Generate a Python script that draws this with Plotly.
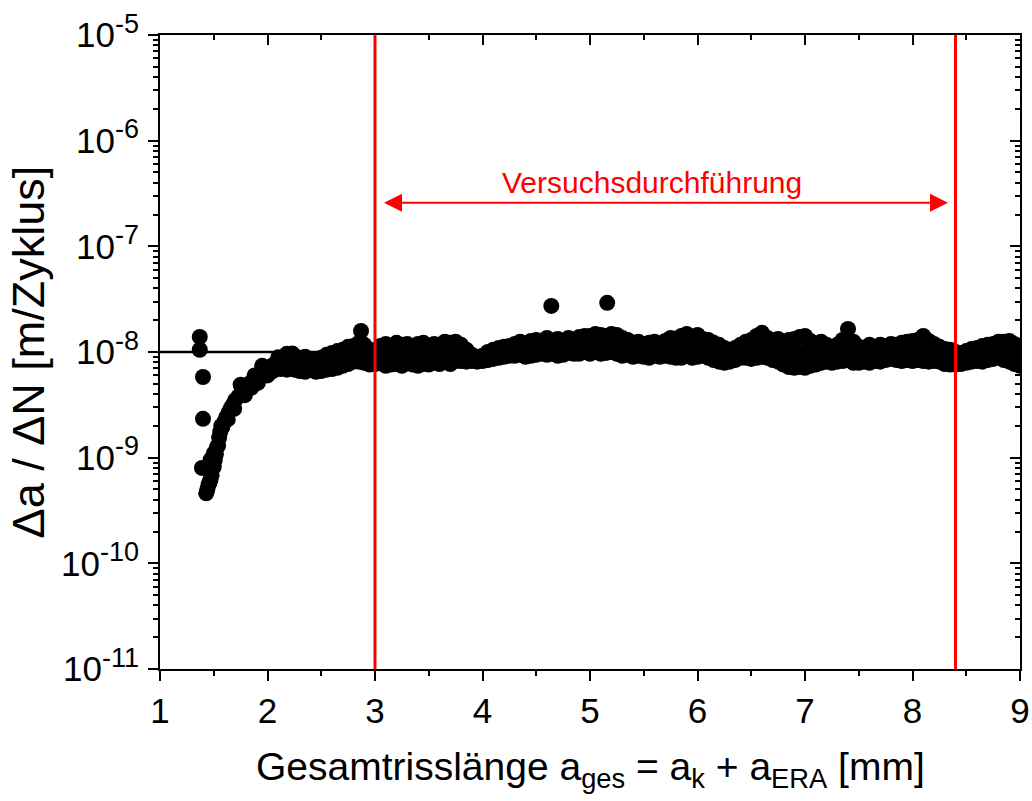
import math
import plotly.graph_objects as go

# ---------------- data (y values in units of 1e-9 m/cycle) ----------------
Y_UNIT = 1e-9

early_x = [1.37, 1.37, 1.40, 1.40, 1.39, 1.43, 1.44, 1.45, 1.46, 1.47,
           1.48, 1.50, 1.51, 1.52, 1.53, 1.55, 1.56, 1.58, 1.60, 1.62,
           1.64, 1.66, 1.68, 1.70, 1.73, 1.76, 1.78, 1.81, 1.84, 1.87,
           1.90, 1.93, 1.96, 1.99, 2.02, 2.05, 2.08, 2.11, 2.14, 2.17,
           2.20, 2.23]
early_y = [13.9, 10.5, 5.8, 2.33, 0.80, 0.46, 0.50, 0.55, 0.58, 0.62,
           0.68, 0.82, 0.95, 1.08, 1.26, 1.55, 1.75, 1.95, 2.2, 2.45,
           2.7, 2.95, 3.2, 3.5, 3.8, 4.1, 4.4, 4.8, 5.1, 5.4,
           5.7, 6.1, 6.4, 6.8, 7.2, 7.5, 7.8, 8.3, 8.6, 9.0,
           9.3, 9.7]

extra_x = [1.47, 1.49, 1.75, 1.88, 1.95, 2.00, 2.05, 2.12, 2.18, 2.23, 2.10, 2.18,
           1.50, 1.54, 1.57, 1.63, 1.69, 1.79, 1.85, 1.91]
extra_y = [0.95, 0.80, 4.9, 6.0, 7.4, 6.0, 6.6, 6.9, 6.8, 7.0, 8.9, 9.6,
           1.10, 1.30, 2.0, 2.3, 2.9, 3.9, 4.6, 5.1]

band_x = [2.25, 2.30, 2.35, 2.40, 2.45, 2.50, 2.55, 2.60, 2.65, 2.70,
          2.75, 2.80, 2.85, 2.90, 2.95, 3.00, 3.05, 3.10, 3.15, 3.20,
          3.25, 3.30, 3.35, 3.40, 3.45, 3.50, 3.55, 3.60, 3.65, 3.70,
          3.75, 3.80, 3.85, 3.90, 3.95, 4.00, 4.05, 4.10, 4.15, 4.20,
          4.25, 4.30, 4.35, 4.40, 4.45, 4.50, 4.55, 4.60, 4.65, 4.70,
          4.75, 4.80, 4.85, 4.90, 4.95, 5.00, 5.05, 5.10, 5.15, 5.20,
          5.25, 5.30, 5.35, 5.40, 5.45, 5.50, 5.55, 5.60, 5.65, 5.70,
          5.75, 5.80, 5.85, 5.90, 5.95, 6.00, 6.05, 6.10, 6.15, 6.20,
          6.25, 6.30, 6.35, 6.40, 6.45, 6.50, 6.55, 6.60, 6.65, 6.70,
          6.75, 6.80, 6.85, 6.90, 6.95, 7.00, 7.05, 7.10, 7.15, 7.20,
          7.25, 7.30, 7.35, 7.40, 7.45, 7.50, 7.55, 7.60, 7.65, 7.70,
          7.75, 7.80, 7.85, 7.90, 7.95, 8.00, 8.05, 8.10, 8.15, 8.20,
          8.25, 8.30, 8.35, 8.40, 8.45, 8.50, 8.55, 8.60, 8.65, 8.70,
          8.75, 8.80, 8.85, 8.90, 8.95, 9.00]

band_hi = [9.2, 8.8, 9.0, 8.6, 8.4, 8.8, 9.4, 9.8, 10.2, 10.5,
           11.2, 11.4, 12.2, 11.7, 10.5, 10.0, 11.4, 11.9, 11.4, 12.2,
           11.7, 11.9, 10.9, 11.9, 12.2, 11.4, 11.9, 11.7, 12.5, 12.2,
           12.5, 11.7, 10.5, 9.4, 9.0, 9.2, 10.0, 10.5, 10.9, 11.2,
           11.4, 11.9, 12.5, 11.7, 12.7, 13.0, 12.5, 13.6, 12.7, 13.3,
           12.7, 13.6, 13.0, 13.9, 14.2, 14.2, 14.8, 14.5, 14.2, 14.8,
           14.5, 13.6, 13.0, 12.2, 12.5, 11.9, 12.2, 12.5, 11.9, 12.7,
           13.6, 11.9, 14.2, 14.8, 13.9, 14.5, 13.3, 13.0, 12.2, 11.7,
           10.9, 10.5, 10.9, 11.7, 12.5, 13.0, 14.2, 15.2, 13.6, 13.0,
           13.3, 12.5, 13.0, 13.3, 13.9, 14.2, 12.7, 11.9, 12.5, 11.7,
           11.2, 11.7, 13.0, 16.5, 12.5, 11.2, 10.9, 11.7, 11.2, 11.7,
           11.4, 11.9, 11.7, 12.2, 12.5, 12.7, 13.0, 14.2, 12.7, 11.9,
           11.2, 10.7, 10.5, 10.0, 9.8, 10.2, 10.7, 10.9, 11.4, 11.7,
           11.9, 12.5, 12.5, 12.7, 11.9, 10.5]

band_lo = [6.8, 6.6, 6.5, 6.8, 6.5, 6.6, 6.8, 6.9, 7.1, 7.4,
           7.7, 8.1, 8.1, 7.9, 7.6, 7.7, 7.9, 7.4, 7.6, 7.7,
           7.4, 7.9, 7.6, 7.4, 7.7, 7.6, 7.9, 7.7, 8.1, 7.7,
           8.2, 8.2, 8.1, 8.2, 8.1, 8.2, 8.4, 8.6, 8.8, 9.0,
           9.2, 9.2, 9.4, 9.0, 9.2, 9.4, 9.6, 9.4, 9.6, 9.2,
           9.4, 9.8, 9.6, 9.6, 10.0, 9.6, 10.0, 9.6, 9.8, 10.0,
           9.6, 9.2, 9.4, 9.0, 9.2, 9.0, 8.8, 9.2, 9.0, 9.2,
           9.0, 8.8, 8.8, 9.2, 8.8, 9.0, 9.2, 8.8, 8.4, 8.1,
           7.9, 8.1, 8.4, 8.8, 8.8, 8.6, 8.8, 9.0, 8.8, 8.4,
           8.1, 7.6, 7.2, 7.1, 7.2, 7.1, 7.4, 7.6, 7.9, 8.1,
           7.9, 8.1, 8.2, 8.4, 7.9, 7.9, 8.1, 7.9, 8.2, 8.1,
           8.4, 8.6, 8.4, 8.2, 8.4, 8.2, 8.4, 8.2, 8.1, 8.2,
           8.1, 7.7, 7.6, 7.6, 7.7, 7.9, 8.1, 8.2, 8.1, 8.4,
           8.6, 8.8, 8.4, 8.1, 7.7, 7.4]

mid_x = [2.275, 2.325, 2.375, 2.425, 2.475, 2.525, 2.575, 2.625, 2.675, 2.725,
         2.775, 2.825, 2.875, 2.925, 2.975, 3.025, 3.075, 3.125, 3.175, 3.225,
         3.275, 3.325, 3.375, 3.425, 3.475, 3.525, 3.575, 3.625, 3.675, 3.725,
         3.775, 3.825, 3.875, 3.925, 3.975, 4.025, 4.075, 4.125, 4.175, 4.225,
         4.275, 4.325, 4.375, 4.425, 4.475, 4.525, 4.575, 4.625, 4.675, 4.725,
         4.775, 4.825, 4.875, 4.925, 4.975, 5.025, 5.075, 5.125, 5.175, 5.225,
         5.275, 5.325, 5.375, 5.425, 5.475, 5.525, 5.575, 5.625, 5.675, 5.725,
         5.775, 5.825, 5.875, 5.925, 5.975, 6.025, 6.075, 6.125, 6.175, 6.225,
         6.275, 6.325, 6.375, 6.425, 6.475, 6.525, 6.575, 6.625, 6.675, 6.725,
         6.775, 6.825, 6.875, 6.925, 6.975, 7.025, 7.075, 7.125, 7.175, 7.225,
         7.275, 7.325, 7.375, 7.425, 7.475, 7.525, 7.575, 7.625, 7.675, 7.725,
         7.775, 7.825, 7.875, 7.925, 7.975, 8.025, 8.075, 8.125, 8.175, 8.225,
         8.275, 8.325, 8.375, 8.425, 8.475, 8.525, 8.575, 8.625, 8.675, 8.725,
         8.775, 8.825, 8.875, 8.925, 8.975]

mid_y = [7.8, 7.7, 7.6, 7.5, 7.6, 7.9, 8.3, 8.6, 8.9, 9.3,
         9.7, 10.0, 9.9, 9.3, 9.0, 9.3, 9.5, 9.4, 9.7, 9.5,
         9.6, 9.2, 9.3, 9.8, 9.4, 9.7, 9.5, 9.9, 9.8, 10.0,
         9.9, 9.4, 9.0, 8.8, 8.7, 9.0, 9.4, 9.7, 9.9, 10.1,
         10.3, 10.7, 10.4, 10.6, 11.0, 10.9, 11.3, 11.0, 11.2, 11.0,
         11.4, 11.2, 11.6, 11.8, 11.7, 12.1, 11.9, 11.8, 12.1, 11.9,
         11.4, 11.1, 10.6, 10.6, 10.4, 10.3, 10.6, 10.4, 10.7, 11.0,
         10.4, 11.1, 11.6, 11.2, 11.4, 11.1, 10.8, 10.2, 9.7, 9.3,
         9.2, 9.5, 10.1, 10.5, 10.6, 11.1, 11.6, 11.2, 10.7, 10.4,
         9.9, 9.6, 9.7, 9.9, 10.0, 9.7, 9.5, 9.7, 9.7, 9.4,
         9.6, 10.1, 10.4, 10.0, 9.4, 9.3, 9.6, 9.6, 9.7, 9.9,
         10.1, 10.0, 10.0, 10.2, 10.2, 10.4, 10.6, 10.3, 9.9, 9.5,
         9.0, 8.9, 8.8, 8.8, 9.0, 9.4, 9.5, 9.8, 10.1, 10.3,
         10.6, 10.5, 10.2, 9.8, 9.3]

out_x = [2.87, 4.64, 5.16]
out_y = [15.8, 27.3, 29.2]

ref_level = 1e-8               # horizontal reference line
red_lines_x = [3.0, 8.4]       # start / end of test
arrow_x = [3.07, 8.33]
arrow_y = 2.58e-7
label_x = 5.58
label_y = 4.0e-7
label_text = "Versuchsdurchführung"

x_ticks = [1, 2, 3, 4, 5, 6, 7, 8, 9]
y_exps = [-11, -10, -9, -8, -7, -6, -5]
y_ticktext = ["10<sup><span style='font-size:27px'>%d</span></sup>" % e for e in y_exps]
y_tickvals = [10.0 ** e for e in y_exps]
y_minor = [k * 10.0 ** e for e in y_exps[:-1] for k in range(2, 10)]

FONT = "Liberation Sans, Arial, sans-serif"

# ---------------- figure ----------------
x_all = early_x + extra_x + band_x + band_x + mid_x + out_x
y_all = [v * Y_UNIT for v in (early_y + extra_y + band_hi + band_lo + mid_y + out_y)]

fig = go.Figure()
fig.add_trace(go.Scatter(x=[1, 9], y=[ref_level, ref_level], mode="lines",
                         line=dict(color="black", width=2.5), hoverinfo="skip",
                         showlegend=False))
fig.add_trace(go.Scatter(x=x_all, y=y_all, mode="markers",
                         marker=dict(color="black", size=16, line=dict(width=0)),
                         showlegend=False))
# red limit lines drawn on the overlay axes so they sit above the axis ticks
for xv in red_lines_x:
    fig.add_trace(go.Scatter(x=[xv, xv], y=[1e-11, 1e-5], mode="lines",
                             xaxis="x2", yaxis="y2",
                             line=dict(color="#FF0000", width=3),
                             hoverinfo="skip", showlegend=False, cliponaxis=False))

axis_common = dict(showgrid=False, zeroline=False, linecolor="black", linewidth=2,
                   tickcolor="black", tickwidth=2, ticklen=10, automargin=False)

fig.update_layout(
    width=1032, height=801,
    margin=dict(l=160, r=12, t=35, b=132, autoexpand=False),
    paper_bgcolor="white", plot_bgcolor="white",
    font=dict(family=FONT, color="black"),
    xaxis=dict(range=[1, 9], tickmode="array", tickvals=x_ticks, ticks="outside",
               mirror=True, showline=True, tickfont=dict(size=35, family=FONT),
               minor=dict(dtick=0.5, tick0=1, ticks="outside", ticklen=5,
                          tickwidth=2, tickcolor="black", showgrid=False),
               **axis_common),
    yaxis=dict(type="log", range=[-11, -5], tickmode="array", tickvals=y_tickvals,
               ticktext=y_ticktext, ticks="outside", mirror=True, showline=True,
               tickfont=dict(size=35, family=FONT), ticklabelstandoff=2,
               minor=dict(tickmode="array", tickvals=y_minor, ticks="outside",
                          ticklen=5, tickwidth=2, tickcolor="black", showgrid=False),
               **axis_common),
    xaxis2=dict(overlaying="x", side="top", anchor="y2", range=[1, 9],
                tickmode="array", tickvals=x_ticks, ticks="inside",
                showticklabels=False, showline=False, layer="below traces",
                minor=dict(dtick=0.5, tick0=1, ticks="inside", ticklen=5,
                           tickwidth=2, tickcolor="black", showgrid=False),
                **axis_common),
    yaxis2=dict(overlaying="y", side="right", anchor="x2", type="log", range=[-11, -5],
                tickmode="array", tickvals=y_tickvals, ticks="inside",
                showticklabels=False, showline=False,
                minor=dict(tickmode="array", tickvals=y_minor, ticks="inside",
                           ticklen=5, tickwidth=2, tickcolor="black", showgrid=False),
                **axis_common),
)

fig.add_annotation(x=arrow_x[1], y=math.log10(arrow_y), ax=arrow_x[0], ay=math.log10(arrow_y),
                   xref="x", yref="y", axref="x", ayref="y", text="",
                   showarrow=True, arrowhead=2, startarrowhead=2, arrowside="end+start",
                   arrowsize=1.8, startarrowsize=1.8, arrowwidth=2, arrowcolor="#FF0000",
                   standoff=0, startstandoff=0)
fig.add_annotation(x=label_x, y=math.log10(label_y), xref="x", yref="y",
                   text=label_text, showarrow=False,
                   font=dict(size=30, color="#FF0000", family=FONT))
fig.add_annotation(x=0.5, y=-0.158, xref="paper", yref="paper",
                   text="Gesamtrisslänge a<sub>ges</sub> = a<sub>k</sub> + a<sub>ERA</sub> [mm]",
                   showarrow=False, font=dict(size=39, family=FONT), yanchor="middle")
fig.add_annotation(x=-0.153, y=0.5, xref="paper", yref="paper",
                   text="Δa / ΔN [m/Zyklus]", textangle=-90,
                   showarrow=False, font=dict(size=45, family=FONT), xanchor="center")

fig.write_html("out.html")
